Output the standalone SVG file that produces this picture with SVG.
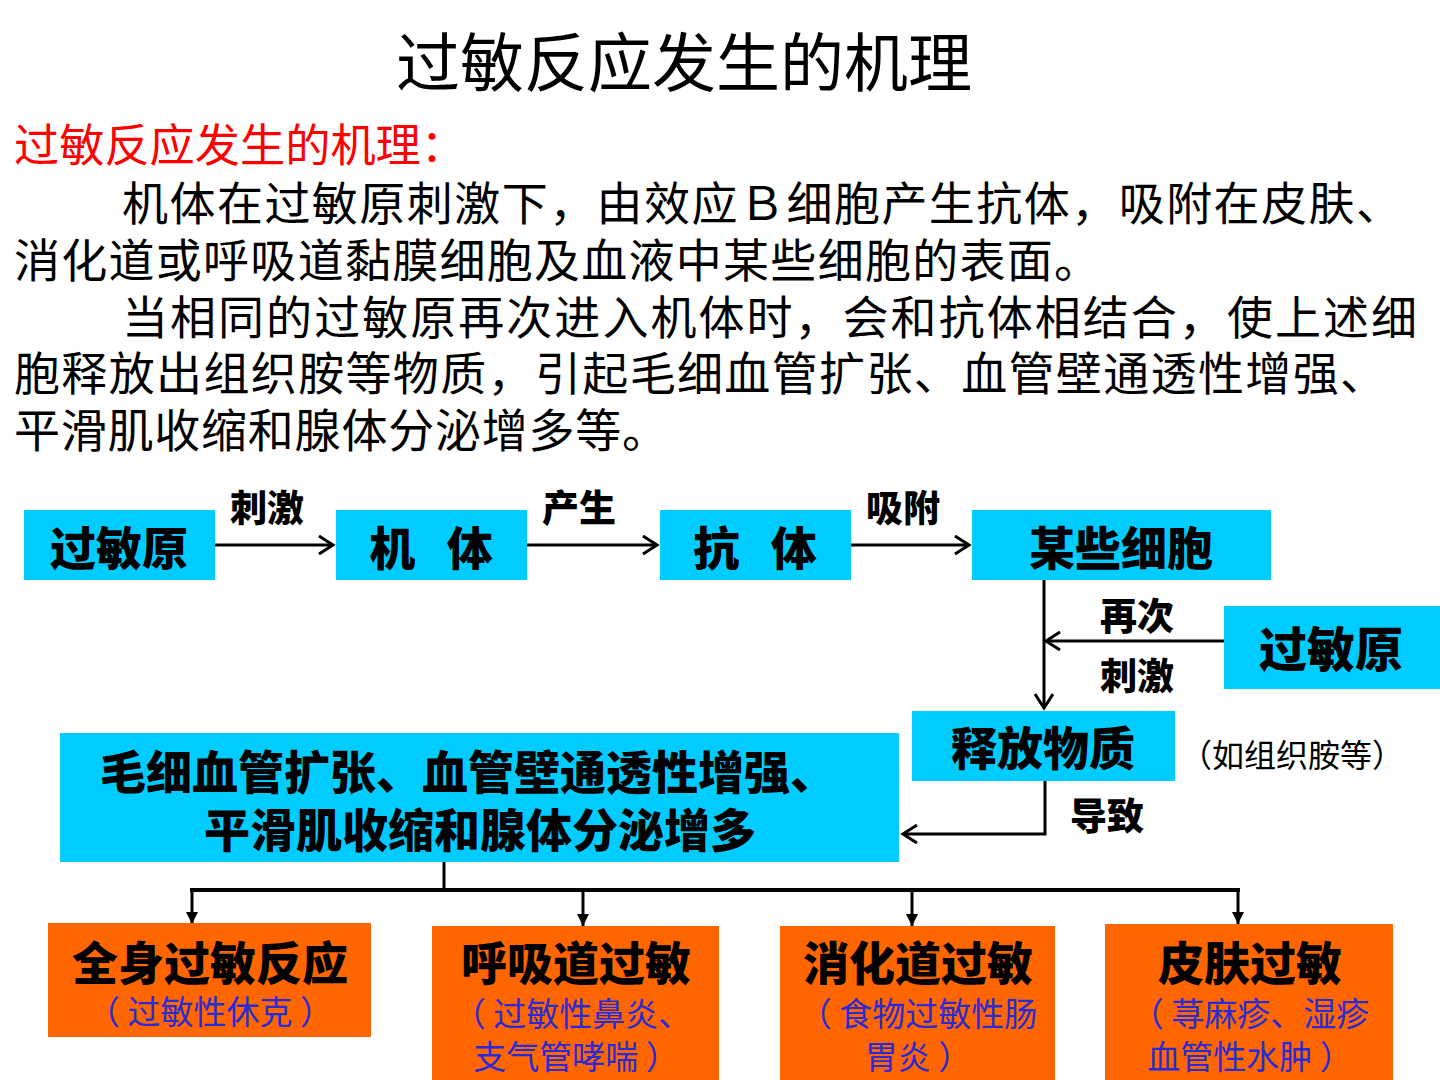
<svg xmlns="http://www.w3.org/2000/svg" width="1440" height="1080" viewBox="0 0 1440 1080">
<defs>
<style>
.t{font-family:"Noto Sans CJK SC","Liberation Sans",sans-serif}
.title{font-size:64px;fill:#000}
.head{font-size:45px;fill:#ff0000}
.body{font-size:46px;fill:#000}
.cyan{fill:#00ccff}
.orange{fill:#ff6600}
.nt{font-size:46px;font-weight:900;fill:#000;text-anchor:middle}
.lbl{font-size:37px;font-weight:900;fill:#000}
.sub{font-size:33px;fill:#2b2bd6;text-anchor:middle;white-space:pre}
.line{stroke:#000;stroke-width:3;fill:none}
</style>
<marker id="chev" markerUnits="userSpaceOnUse" markerWidth="20" markerHeight="22" refX="16" refY="10" orient="auto">
<path d="M2,1 L16,10 L2,19" fill="none" stroke="#000" stroke-width="3"/>
</marker>
<marker id="tri" markerUnits="userSpaceOnUse" markerWidth="14" markerHeight="14" refX="12" refY="6" orient="auto">
<path d="M0,0 L12,6 L0,12 Z" fill="#000"/>
</marker>
</defs>
<rect width="1440" height="1080" fill="#fff"/>

<g id="text-block">
<text class="t title" x="684" y="86" text-anchor="middle">过敏反应发生的机理</text>
<text class="t head" x="14" y="162" textLength="452" lengthAdjust="spacingAndGlyphs">过敏反应发生的机理：</text>
<text class="t body" x="122" y="220" textLength="1280" lengthAdjust="spacing">机体在过敏原刺激下，由效应Ｂ细胞产生抗体，吸附在皮肤、</text>
<text class="t body" x="14" y="277" textLength="1086" lengthAdjust="spacing">消化道或呼吸道黏膜细胞及血液中某些细胞的表面。</text>
<text class="t body" x="122" y="334" textLength="1295" lengthAdjust="spacing">当相同的过敏原再次进入机体时，会和抗体相结合，使上述细</text>
<text class="t body" x="14" y="390" textLength="1372" lengthAdjust="spacing">胞释放出组织胺等物质，引起毛细血管扩张、血管壁通透性增强、</text>
<text class="t body" x="14" y="447" textLength="654" lengthAdjust="spacing">平滑肌收缩和腺体分泌增多等。</text>
</g>

<g id="connectors">
<line class="line" x1="215" y1="545" x2="333" y2="545" marker-end="url(#chev)"/>
<line class="line" x1="527" y1="545" x2="657" y2="545" marker-end="url(#chev)"/>
<line class="line" x1="851" y1="545" x2="969" y2="545" marker-end="url(#chev)"/>
<line class="line" x1="1044" y1="580" x2="1044" y2="708" marker-end="url(#chev)"/>
<line class="line" x1="1224" y1="641" x2="1046" y2="641" marker-end="url(#chev)"/>
<polyline class="line" points="1045,781 1045,834 903,834" marker-end="url(#chev)"/>
<line class="line" x1="444" y1="862" x2="444" y2="889"/>
<line x1="190" y1="890" x2="1240" y2="890" stroke="#000" stroke-width="4"/>
<line class="line" x1="192" y1="888" x2="192" y2="924" marker-end="url(#tri)"/>
<line class="line" x1="583" y1="888" x2="583" y2="926" marker-end="url(#tri)"/>
<line class="line" x1="912" y1="888" x2="912" y2="926" marker-end="url(#tri)"/>
<line class="line" x1="1238" y1="888" x2="1238" y2="924" marker-end="url(#tri)"/>
<text class="t lbl" x="230" y="522">刺激</text>
<text class="t lbl" x="542" y="522">产生</text>
<text class="t lbl" x="866" y="522">吸附</text>
<text class="t lbl" x="1100" y="630">再次</text>
<text class="t lbl" x="1100" y="690">刺激</text>
<text class="t lbl" x="1070" y="830">导致</text>
</g>

<g id="node-allergen1">
<rect class="cyan" x="24" y="510" width="191" height="70"/>
<text class="t nt" x="119" y="565">过敏原</text>
</g>
<g id="node-body">
<rect class="cyan" x="336" y="510" width="191" height="70"/>
<text class="t nt" x="431" y="565" style="white-space:pre">机   体</text>
</g>
<g id="node-antibody">
<rect class="cyan" x="660" y="510" width="191" height="70"/>
<text class="t nt" x="755" y="565" style="white-space:pre">抗   体</text>
</g>
<g id="node-cells">
<rect class="cyan" x="972" y="510" width="299" height="70"/>
<text class="t nt" x="1121" y="565">某些细胞</text>
</g>
<g id="node-allergen2">
<rect class="cyan" x="1224" y="606" width="216" height="83"/>
<text class="t nt" x="1331" y="667" style="font-size:48px">过敏原</text>
</g>
<g id="node-release">
<rect class="cyan" x="912" y="711" width="263" height="70"/>
<text class="t nt" x="1043" y="765">释放物质</text>
<text class="t" x="1180" y="767" textLength="224" lengthAdjust="spacingAndGlyphs" style="font-size:32px;fill:#000">（如组织胺等）</text>
</g>
<g id="node-effects">
<rect class="cyan" x="60" y="733" width="839" height="129"/>
<text class="t nt" x="468" y="789">毛细血管扩张、血管壁通透性增强、</text>
<text class="t nt" x="480" y="847">平滑肌收缩和腺体分泌增多</text>
</g>

<g id="node-systemic">
<rect class="orange" x="48" y="923" width="323" height="114"/>
<text class="t nt" x="210" y="980">全身过敏反应</text>
<text class="t sub" x="210" y="1024">（ 过敏性休克 ）</text>
</g>
<g id="node-respiratory">
<rect class="orange" x="432" y="926" width="287" height="154"/>
<text class="t nt" x="576" y="980">呼吸道过敏</text>
<text class="t sub" x="572" y="1026">（ 过敏性鼻炎、</text>
<text class="t sub" x="576" y="1069">支气管哮喘 ）</text>
</g>
<g id="node-digestive">
<rect class="orange" x="780" y="926" width="275" height="154"/>
<text class="t nt" x="918" y="980">消化道过敏</text>
<text class="t sub" x="918" y="1026">（ 食物过敏性肠</text>
<text class="t sub" x="918" y="1069">胃炎 ）</text>
</g>
<g id="node-skin">
<rect class="orange" x="1105" y="924" width="288" height="156"/>
<text class="t nt" x="1250" y="980">皮肤过敏</text>
<text class="t sub" x="1250" y="1026">（ 荨麻疹、湿疹</text>
<text class="t sub" x="1250" y="1069">血管性水肿 ）</text>
</g>
</svg>
